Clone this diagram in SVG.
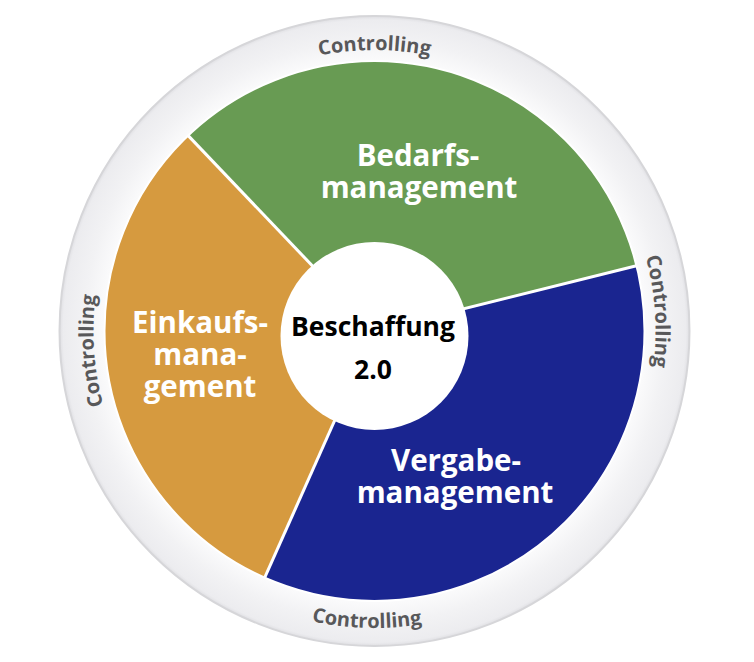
<svg xmlns="http://www.w3.org/2000/svg" width="754" height="662" viewBox="0 0 754 662">
<defs>
<style>
.ctl{font-family:"Open Sans","DejaVu Sans",sans-serif;font-weight:bold;font-size:20px;fill:#58585a;}
.seg{font-family:"Open Sans","DejaVu Sans",sans-serif;font-weight:bold;font-size:29.5px;fill:#ffffff;text-anchor:middle;}
.ctr{font-family:"Open Sans","DejaVu Sans",sans-serif;font-weight:bold;font-size:26.5px;fill:#000000;text-anchor:middle;}
.sep{stroke:#ffffff;stroke-width:3;}
</style>
<radialGradient id="ringGrad" cx="374.5" cy="331" r="316" gradientUnits="userSpaceOnUse">
<stop offset="0.86" stop-color="#fafafb"/>
<stop offset="0.92" stop-color="#f2f2f4"/>
<stop offset="0.985" stop-color="#ececef"/>
<stop offset="1" stop-color="#dcdce0"/>
</radialGradient>
<path id="arcTop" d="M131.2,190.5 A281,281 0 0,1 617.8,190.5"/>
<path id="arcRight" d="M497.7,78.4 A281,281 0 0,1 531.6,564.0"/>
<path id="arcLeft" d="M251.3,583.6 A281,281 0 0,1 217.4,98.0"/>
<path id="arcBottom" d="M113.5,472.7 A297,297 0 0,0 627.7,486.2"/>
</defs>
<rect width="754" height="662" fill="#ffffff"/>
<g id="ring">
<circle cx="374.5" cy="331" r="315" fill="url(#ringGrad)" stroke="#d6d6d9" stroke-width="2"/>
<text class="ctl"><textPath href="#arcTop" startOffset="50%" text-anchor="middle">Controlling</textPath></text>
<text class="ctl"><textPath href="#arcRight" startOffset="50%" text-anchor="middle">Controlling</textPath></text>
<text class="ctl"><textPath href="#arcLeft" startOffset="50%" text-anchor="middle">Controlling</textPath></text>
<text class="ctl"><textPath href="#arcBottom" startOffset="50%" text-anchor="middle">Controlling</textPath></text>
</g>
<g id="bedarfsmanagement">
<path d="M374.5,331 L188.2,135.6 A270,270 0 0,1 636.5,265.7 Z" fill="#689b53"/>
<text class="seg" x="418" y="166">Bedarfs-</text>
<text class="seg" x="419" y="198">management</text>
</g>
<g id="vergabemanagement">
<path d="M374.5,331 L636.5,265.7 A270,270 0 0,1 264.7,577.7 Z" fill="#1a2590"/>
<text class="seg" x="456" y="471">Vergabe-</text>
<text class="seg" x="455" y="503">management</text>
</g>
<g id="einkaufsmanagement">
<path d="M374.5,331 L264.7,577.7 A270,270 0 0,1 188.2,135.6 Z" fill="#d69a3f"/>
<text class="seg" x="200" y="333">Einkaufs-</text>
<text class="seg" x="200" y="365">mana-</text>
<text class="seg" x="200" y="397">gement</text>
</g>
<g id="connectors">
<line class="sep" x1="374.5" y1="331" x2="188.2" y2="135.6"/>
<line class="sep" x1="374.5" y1="331" x2="636.5" y2="265.7"/>
<line class="sep" x1="374.5" y1="331" x2="264.7" y2="577.7"/>
<circle cx="374.5" cy="331" r="270" fill="none" stroke="#ffffff" stroke-width="2"/>
</g>
<g id="center">
<circle cx="374.5" cy="336" r="94" fill="#ffffff"/>
<text class="ctr" x="373" y="336">Beschaffung</text>
<text class="ctr" x="373" y="379">2.0</text>
</g>
</svg>
